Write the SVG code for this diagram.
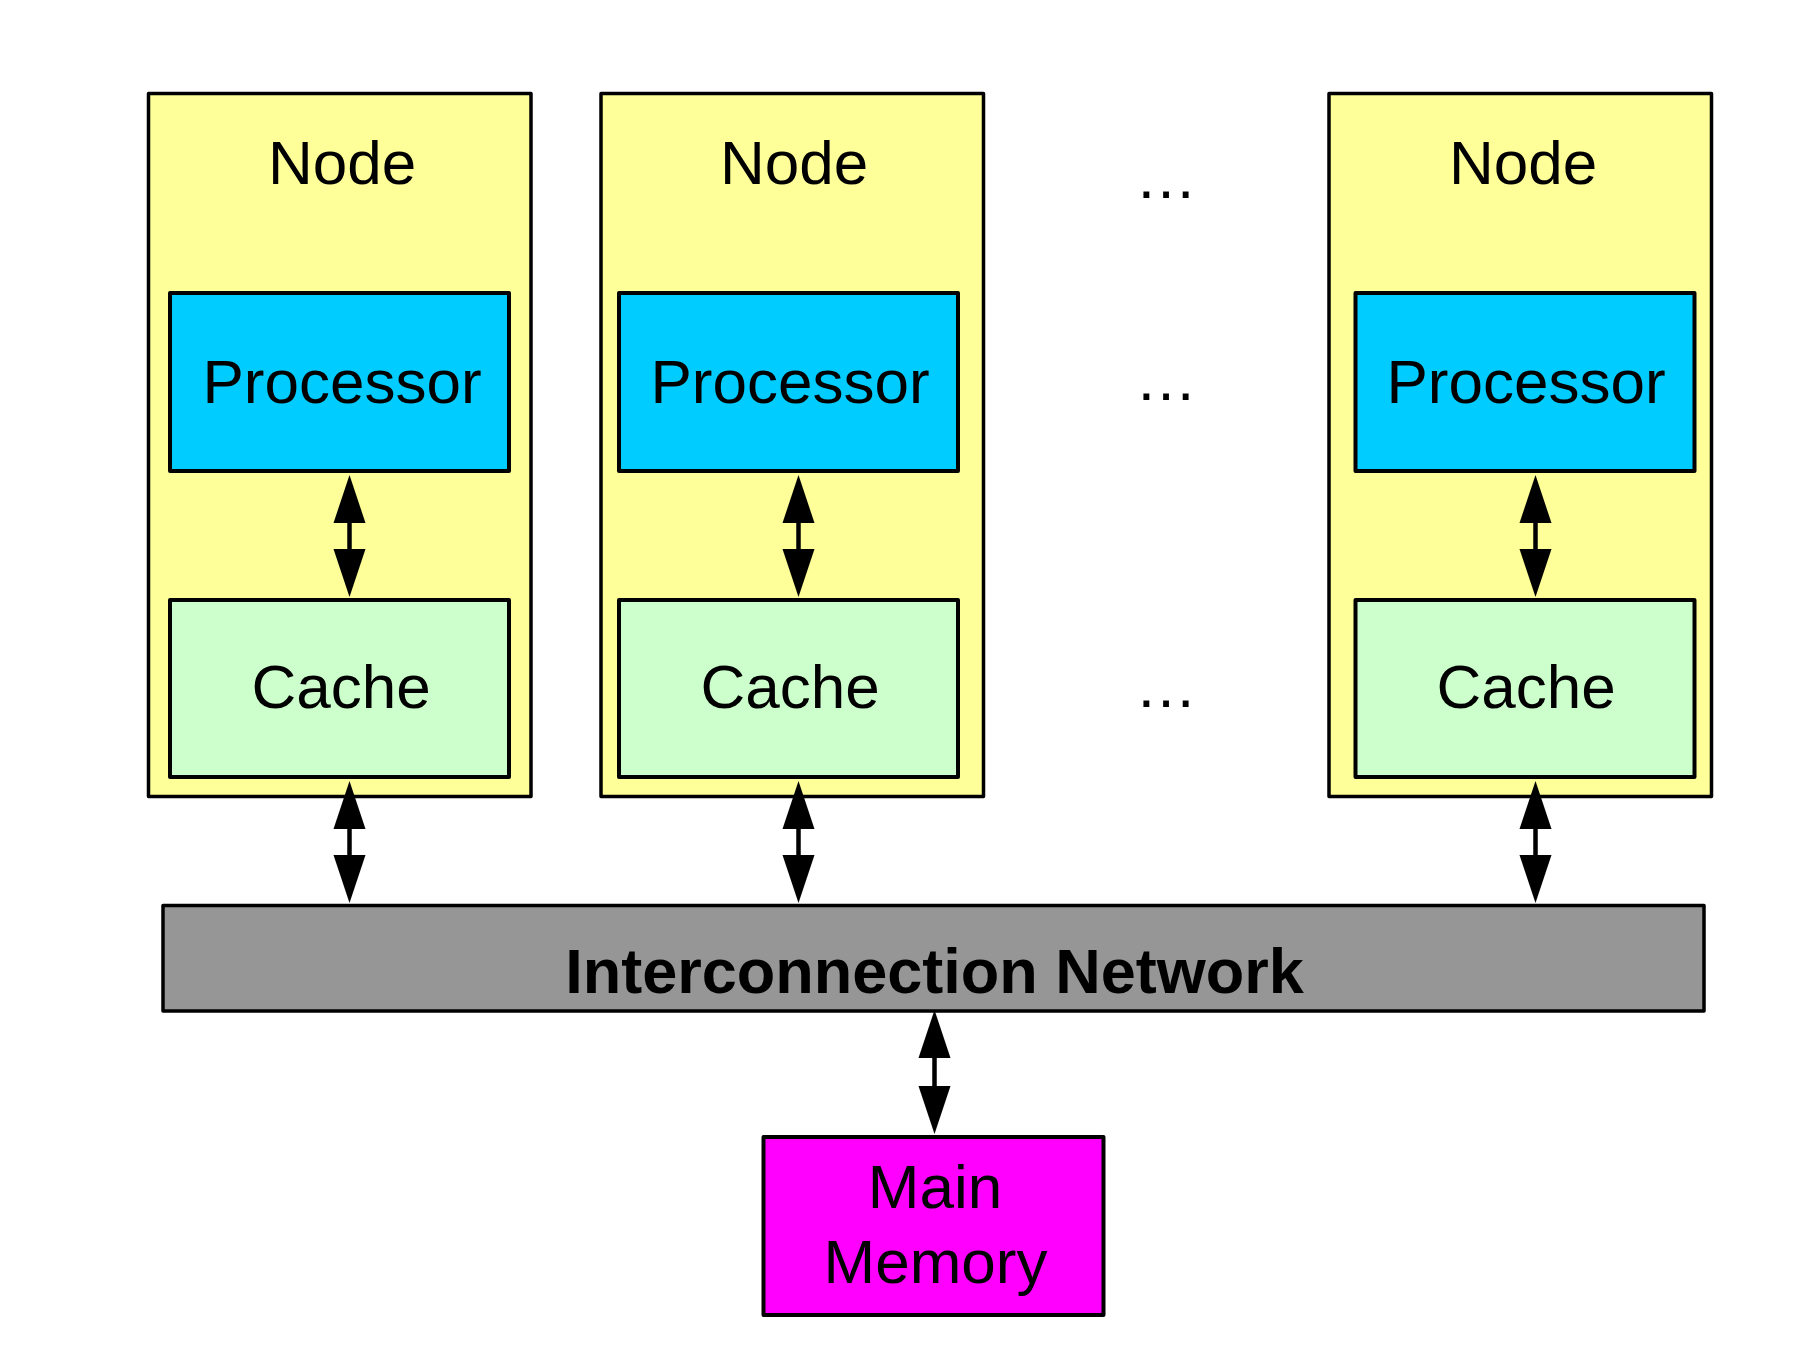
<svg xmlns="http://www.w3.org/2000/svg" width="1809" height="1348" viewBox="0 0 1809 1348">
  <style>
    text { font-family: "Liberation Sans", Arial, sans-serif; fill: #000; text-anchor: middle; }
    .lbl { font-size: 62px; }
    .bold { font-size: 63px; font-weight: bold; }
    .node { fill: #FFFF99; stroke: #000; stroke-width: 3.5; stroke-linejoin: round; }
    .proc { fill: #00CCFF; stroke: #000; stroke-width: 4; stroke-linejoin: round; }
    .cache { fill: #CCFFCC; stroke: #000; stroke-width: 4; stroke-linejoin: round; }
    .net { fill: #969696; stroke: #000; stroke-width: 3.5; stroke-linejoin: round; }
    .mem { fill: #FF00FF; stroke: #000; stroke-width: 4; stroke-linejoin: round; }
    .link { stroke: #000; stroke-width: 4.5; fill: none; marker-start: url(#head); marker-end: url(#head); }
  </style>
  <defs>
    <marker id="head" markerUnits="userSpaceOnUse" viewBox="-2 -17 50 34" refX="0" refY="0" markerWidth="50" markerHeight="34" orient="auto-start-reverse">
      <path d="M-1,-16 L47,0 L-1,16 z" fill="#000"/>
    </marker>
  </defs>

  <rect width="1809" height="1348" fill="#fff"/>

  <!-- left node -->
  <g id="node1">
    <rect class="node" x="148.5" y="93.5" width="382.5" height="703"/>
    <text class="lbl" x="342" y="184">Node</text>
    <g id="proc1">
      <rect class="proc" x="170" y="293" width="339" height="178"/>
      <text class="lbl" x="342" y="403">Processor</text>
    </g>
    <g id="cache1">
      <rect class="cache" x="170" y="600" width="339" height="177"/>
      <text class="lbl" x="341" y="708">Cache</text>
    </g>
  </g>

  <!-- middle node -->
  <g id="node2">
    <rect class="node" x="601" y="93.5" width="382.5" height="703"/>
    <text class="lbl" x="794" y="184">Node</text>
    <g id="proc2">
      <rect class="proc" x="619" y="293" width="339" height="178"/>
      <text class="lbl" x="790" y="403">Processor</text>
    </g>
    <g id="cache2">
      <rect class="cache" x="619" y="600" width="339" height="177"/>
      <text class="lbl" x="790" y="708">Cache</text>
    </g>
  </g>

  <!-- ellipsis for the omitted nodes -->
  <g id="more">
    <text class="lbl" x="1166" y="198">…</text>
    <text class="lbl" x="1166" y="400">…</text>
    <text class="lbl" x="1166" y="707">…</text>
  </g>

  <!-- right node -->
  <g id="node3">
    <rect class="node" x="1329" y="93.5" width="382.5" height="703"/>
    <text class="lbl" x="1523" y="184">Node</text>
    <g id="proc3">
      <rect class="proc" x="1355.5" y="293" width="339" height="178"/>
      <text class="lbl" x="1526" y="403">Processor</text>
    </g>
    <g id="cache3">
      <rect class="cache" x="1355.5" y="600" width="339" height="177"/>
      <text class="lbl" x="1526" y="708">Cache</text>
    </g>
  </g>

  <g id="network">
    <rect class="net" x="163" y="905.5" width="1541" height="105.5"/>
    <text class="bold" x="934.5" y="993">Interconnection Network</text>
  </g>

  <g id="memory">
    <rect class="mem" x="763.5" y="1137" width="340" height="178"/>
    <text class="lbl" x="935" y="1208">Main</text>
    <text class="lbl" x="935.5" y="1283">Memory</text>
  </g>

  <!-- bidirectional links -->
  <g id="connectors">
    <line class="link" x1="349.5" y1="522" x2="349.5" y2="550"/>
    <line class="link" x1="349.5" y1="828" x2="349.5" y2="856"/>
    <line class="link" x1="798.5" y1="522" x2="798.5" y2="550"/>
    <line class="link" x1="798.5" y1="828" x2="798.5" y2="856"/>
    <line class="link" x1="1535.5" y1="522" x2="1535.5" y2="550"/>
    <line class="link" x1="1535.5" y1="828" x2="1535.5" y2="856"/>
    <line class="link" x1="934.5" y1="1057" x2="934.5" y2="1087"/>
  </g>
</svg>
